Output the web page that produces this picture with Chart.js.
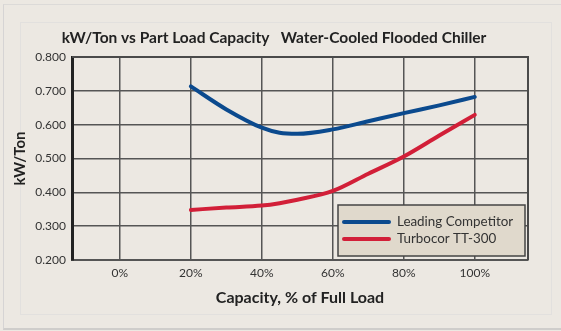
<!DOCTYPE html>
<html>
<head>
<meta charset="utf-8">
<script src="https://cdn.jsdelivr.net/npm/chart.js@4"></script>
<style>
  body { margin: 0; background: #ECE8E2; }
  #wrap { position: relative; width: 561px; height: 331px; }
  .frame1 { position: absolute; left: 3px; top: 4px; right: 0; bottom: 1px; border-left: 1px solid #D6D4D4; border-top: 1px solid #DCDAD8; border-bottom: 2px solid #CFCDCB; }
  .frame2 { position: absolute; left: 20px; top: 22px; width: 530px; height: 291px; border: 1px solid #E2E0DE; }
  canvas { position: absolute; left: 0; top: 0; }
</style>
</head>
<body>
<div id="wrap">
  <div class="frame1"></div>
  <div class="frame2"></div>
  <canvas id="chart" width="561" height="331"></canvas>
</div>
<script>
const titleText = "kW/Ton vs Part Load Capacity   Water-Cooled Flooded Chiller";
const xValues = [20, 30, 40, 45, 50, 60, 70, 80, 90, 100];
const leadingCompetitor = [0.713, 0.645, 0.591, 0.576, 0.573, 0.586, 0.610, 0.634, 0.657, 0.682];
const turbocor = [0.348, 0.355, 0.361, 0.368, 0.378, 0.404, 0.455, 0.506, 0.568, 0.629];
const xTickValues = [0, 20, 40, 60, 80, 100];
const xTickLabels = ["0%", "20%", "40%", "60%", "80%", "100%"];

const toPoints = (ys) => ys.map((y, i) => ({ x: xValues[i], y: y }));

// title (sits a bit right of centre), frame round the plot, boxed legend
const framePlugin = {
  id: "frame",
  afterDraw(chart) {
    const { ctx, chartArea: a } = chart;
    ctx.save();
    ctx.fillStyle = "#222";
    ctx.font = "bold 15.5px Lato";
    ctx.textAlign = "center";
    ctx.textBaseline = "middle";
    ctx.fillText(titleText, 274, 38);
    ctx.restore();
  },
  afterDatasetsDraw(chart) {
    const { ctx, chartArea: a } = chart;
    ctx.save();
    ctx.strokeStyle = "#4a4a4a";
    ctx.lineWidth = 2;
    ctx.beginPath();
    ctx.moveTo(a.left, a.top);
    ctx.lineTo(a.right, a.top);
    ctx.lineTo(a.right, a.bottom);
    ctx.stroke();

    const bx = a.right - 190, by = a.bottom - 55, bw = 187, bh = 51;
    ctx.fillStyle = "#E0D9CC";
    ctx.fillRect(bx, by, bw, bh);
    ctx.lineWidth = 1.5;
    ctx.strokeStyle = "#444";
    ctx.strokeRect(bx, by, bw, bh);
    ctx.font = "13.4px Lato";
    ctx.textBaseline = "middle";
    chart.data.datasets.forEach((ds, i) => {
      const y = by + 17 + i * 17;
      ctx.strokeStyle = ds.borderColor;
      ctx.lineWidth = 4;
      ctx.lineCap = "round";
      ctx.beginPath();
      ctx.moveTo(bx + 6, y);
      ctx.lineTo(bx + 51, y);
      ctx.stroke();
      ctx.fillStyle = "#333";
      ctx.fillText(ds.label, bx + 59, y);
    });
    ctx.restore();
  },
};

new Chart(document.getElementById("chart"), {
  type: "line",
  data: {
    datasets: [
      {
        label: "Leading Competitor",
        data: toPoints(leadingCompetitor),
        borderColor: "#0B4A8E",
        borderWidth: 4,
        borderCapStyle: "round",
        pointRadius: 0,
        cubicInterpolationMode: "monotone",
      },
      {
        label: "Turbocor TT-300",
        data: toPoints(turbocor),
        borderColor: "#D21F38",
        borderWidth: 4,
        borderCapStyle: "round",
        pointRadius: 0,
        cubicInterpolationMode: "monotone",
      },
    ],
  },
  options: {
    responsive: false,
    animation: false,
    layout: { padding: { top: 57, left: 0, right: 33, bottom: 0 } },
    plugins: {
      legend: { display: false },
      tooltip: { enabled: false },
      title: { display: false },
    },
    scales: {
      x: {
        type: "linear",
        min: -13.5,
        max: 115,
        afterBuildTicks: (axis) => {
          axis.ticks = xTickValues.map((v) => ({ value: v }));
        },
        afterFit: (axis) => { axis.height = 71; },
        ticks: {
          color: "#333",
          font: { family: "Lato", size: 12 },
          padding: 6,
          callback: (v) => xTickLabels[xTickValues.indexOf(v)],
        },
        grid: { color: "#555", lineWidth: 1.5, drawTicks: false },
        border: { color: "#555", width: 2 },
        title: {
          display: true,
          text: "Capacity, % of Full Load",
          color: "#222",
          font: { family: "Lato", size: 16, weight: "bold" },
          padding: { bottom: 24 },
        },
      },
      y: {
        min: 0.2,
        max: 0.8,
        afterFit: (axis) => { axis.width = 72; },
        ticks: {
          stepSize: 0.1,
          color: "#333",
          font: { family: "Lato", size: 12 },
          padding: 6,
          callback: (v) => v.toFixed(3),
        },
        grid: { color: "#555", lineWidth: 1.5, drawTicks: false },
        border: { color: "#222", width: 3 },
        title: {
          display: true,
          text: "kW/Ton",
          color: "#222",
          font: { family: "Lato", size: 15, weight: "bold" },
          padding: { top: 11 },
        },
      },
    },
  },
  plugins: [framePlugin],
});
</script>
</body>
</html>
